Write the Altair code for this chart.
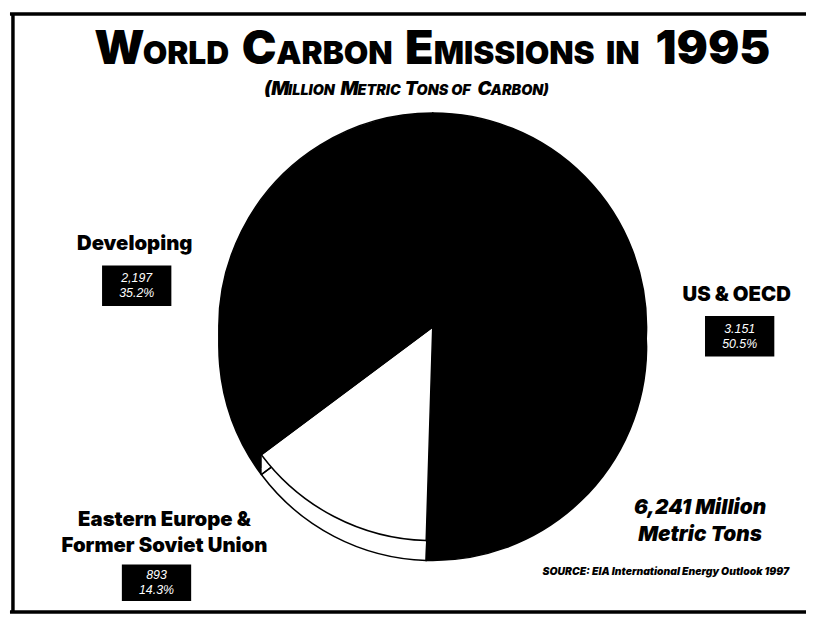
import altair as alt
import pandas as pd

# ---- data ----
regions = ["US & OECD", "Eastern Europe & Former Soviet Union", "Developing"]
emissions = [3151, 893, 2197]
shares = ["50.5%", "14.3%", "35.2%"]
value_text = ["3.151", "893", "2,197"]
fills = ["#000000", "#ffffff", "#000000"]

df = pd.DataFrame({
    "region": regions,
    "emissions": emissions,
    "ord": list(range(len(regions))),
    "label": [f"{v}\n{s}" for v, s in zip(value_text, shares)],
})

W, H = 806, 610
CX, CY, R, DEPTH = 429, 319, 216, 20
FONT = "Inter"
LFONT = "Liberation Sans"

base = alt.Chart(df)
color = alt.Color("region:N", scale=alt.Scale(domain=regions, range=fills), legend=None)


def pie(dy, **kw):
    return base.mark_arc(radius=R, **kw).encode(
        theta=alt.Theta("emissions:Q", stack=True),
        order=alt.Order("ord:Q"),
        color=color,
        x=alt.value(CX),
        y=alt.value(CY + dy),
    )


layers = []
# extruded rim
for k in range(DEPTH, 0, -1):
    layers.append(pie(k))
layers.append(pie(DEPTH, fillOpacity=0, stroke="black", strokeWidth=1.5))
# top face
layers.append(pie(0, stroke="black", strokeWidth=1.5))

one = alt.Chart(pd.DataFrame({"a": [0]}))


def txt(s, x, y, size, weight="bold", style="normal", align="center",
        baseline="middle", color="black", font=FONT):
    return one.mark_text(text=s, font=font, fontSize=size, fontWeight=weight,
                         fontStyle=style, align=align, baseline=baseline,
                         color=color).encode(
        x=alt.value(x), y=alt.value(y))


def rule(x, x2, y, y2, w=3.5):
    return one.mark_rule(color="black", strokeWidth=w).encode(
        x=alt.value(x), x2=alt.value(x2), y=alt.value(y), y2=alt.value(y2))


def box(x, x2, y, y2):
    return one.mark_rect(color="black").encode(
        x=alt.value(x), x2=alt.value(x2), y=alt.value(y), y2=alt.value(y2))


# frame
layers += [rule(2, W, 3, 3), rule(5, 5, 2, 608), rule(2, W, 607, 607)]

# title in small caps
big, small, tb = 47, 32, 53
title_parts = [("W", 87, big), ("ORLD", 136, small), ("C", 236, big),
               ("ARBON", 271, small), ("E", 401, big), ("MISSIONS", 430, small),
               ("IN", 604, small), ("1995", 654, big)]
for s, x, size in title_parts:
    layers.append(txt(s, x, tb, size, weight=900, align="left", baseline="alphabetic"))

# subtitle in small caps (approximate advance widths, em units)
EM = {"(": .4, ")": .4, "M": .95, "I": .33, "L": .6, "O": .8, "N": .78, " ": .4,
      "E": .62, "T": .66, "R": .72, "C": .74, "S": .68, "F": .6, "A": .78, "B": .73}
sb, ss = 19, 14.5
sub_parts = [("(M", sb), ("ILLION ", ss), ("M", sb), ("ETRIC ", ss), ("T", sb),
             ("ONS OF ", ss), ("C", sb), ("ARBON)", ss)]
widths = [sum(EM[c] for c in s) * size * 0.95 for s, size in sub_parts]
x0 = 402 - sum(widths) / 2
for (s, size), w in zip(sub_parts, widths):
    layers.append(txt(s, x0, 85, size, weight=900, style="italic", align="left",
                      baseline="alphabetic"))
    x0 += w

# category labels
LS = 20.5
layers.append(txt("Developing", 128, 235, LS, weight=900))
layers.append(txt("US & OECD", 736, 287, LS, weight=900))
layers.append(txt("Eastern Europe &", 158, 514, LS, weight=900))
layers.append(txt("Former Soviet Union", 158, 540, LS, weight=900))

# value boxes
LH = 15
box_pos = {"Developing": (95, 165, 257, 298),
           "US & OECD": (704, 774, 308, 349),
           "Eastern Europe & Former Soviet Union": (115, 185, 559, 596)}
for r, (x1, x2, y1, y2) in box_pos.items():
    layers.append(box(x1, x2, y1, y2))
    layers.append(base.transform_filter(alt.datum.region == r).mark_text(
        font=LFONT, fontSize=12.5, fontStyle="italic", color="white",
        align="center", baseline="middle", lineBreak="\n", lineHeight=LH).encode(
        text="label:N", x=alt.value((x1 + x2) / 2), y=alt.value((y1 + y2) / 2 - LH / 2)))

layers.append(txt("6,241 Million", 699, 502, 21, weight=900, style="italic"))
layers.append(txt("Metric Tons", 699, 529, 21, weight=900, style="italic"))
layers.append(txt("SOURCE:  EIA International Energy Outlook 1997", 789, 567, 10.5,
                  weight=900, style="italic", align="right"))

chart = alt.layer(*layers).properties(
    width=W, height=H, padding=0, autosize=alt.AutoSizeParams(type="none"),
    background="white",
).configure_view(stroke=None)

chart.save("out.html", embed_options={"renderer": "svg", "actions": False})
